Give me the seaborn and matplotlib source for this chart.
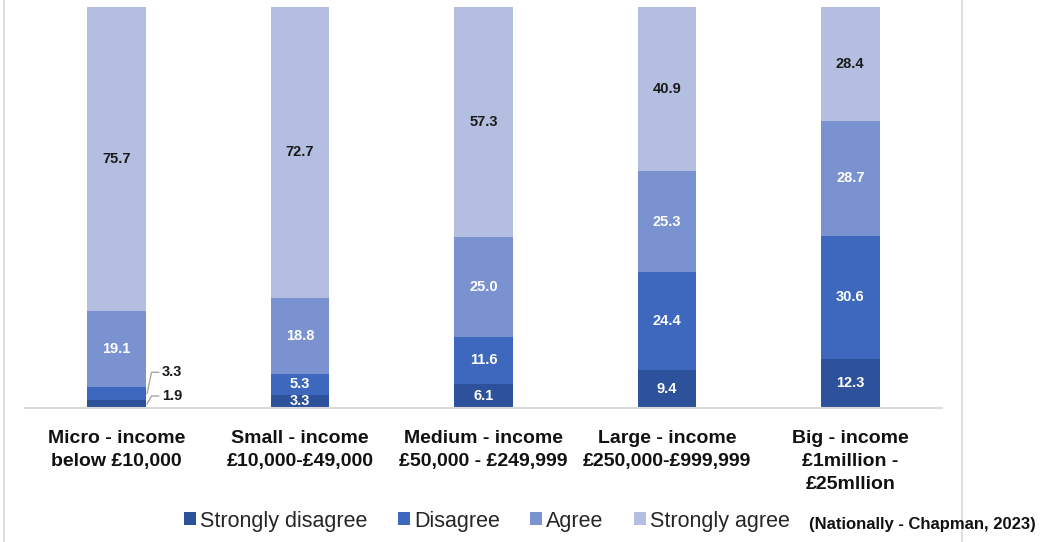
import matplotlib
matplotlib.use("Agg")
import matplotlib.pyplot as plt
from matplotlib.lines import Line2D
from matplotlib.patches import Patch
import numpy as np
import pandas as pd
import seaborn as sns

categories = [
    "Micro - income\nbelow £10,000",
    "Small - income\n£10,000-£49,000",
    "Medium - income\n£50,000 - £249,999",
    "Large - income\n£250,000-£999,999",
    "Big - income\n£1million -\n£25mllion",
]
series_names = ["Strongly disagree", "Disagree", "Agree", "Strongly agree"]
strongly_disagree = [1.9, 3.3, 6.1, 9.4, 12.3]
disagree = [3.3, 5.3, 11.6, 24.4, 30.6]
agree = [19.1, 18.8, 25.0, 25.3, 28.7]
strongly_agree = [75.7, 72.7, 57.3, 40.9, 28.4]
colors = ["#2D519A", "#3D68BE", "#7A93D0", "#B4BEE0"]

sns.set_theme(style="white")
plt.rcParams["font.family"] = ["Liberation Sans", "DejaVu Sans"]

values = np.array([strongly_disagree, disagree, agree, strongly_agree])
cum = np.cumsum(values, axis=0)

fig = plt.figure(figsize=(10.44, 5.42), dpi=100)
ax = fig.add_axes([25 / 1044, (542 - 408) / 542, 917 / 1044, 401 / 542])

# draw from tallest cumulative to shortest so segments stack
for i in range(3, -1, -1):
    df = pd.DataFrame({"cat": categories, "val": cum[i]})
    sns.barplot(data=df, x="cat", y="val", color=colors[i], saturation=1,
                width=0.32, ax=ax, order=categories, edgecolor="none", linewidth=0)

ax.set_xlim(-0.5, 4.5)
ax.set_ylim(0, 100)
ax.set_xlabel("")
ax.set_ylabel("")
ax.set_yticks([])
for s in ["left", "right", "top"]:
    ax.spines[s].set_visible(False)
ax.spines["bottom"].set_color("#D9D9D9")
ax.spines["bottom"].set_linewidth(1.5)
ax.tick_params(axis="x", length=0, pad=16)
ax.set_xticks(range(len(categories)))
ax.set_xticklabels(categories, fontsize=14, fontweight="bold", color="#111111",
                   linespacing=1.45)

# segment labels
for i in range(4):
    for j in range(len(categories)):
        v = values[i, j]
        bottom = cum[i, j] - v
        mid = bottom + v / 2
        if j == 0 and i < 2:
            continue
        col = "#1A1A1A" if i == 3 else "white"
        ax.text(j, mid, f"{v:.1f}", ha="center", va="center", fontsize=10.5,
                fontweight="bold", color=col)

# outside labels with leader lines for the small Micro segments
edge = 0.16
for i, ty in [(1, 8.9), (0, 3.0)]:
    v = values[i, 0]
    mid = cum[i, 0] - v / 2
    ax.plot([edge + 0.005, edge + 0.03, edge + 0.07], [mid, ty, ty],
            color="#A6A6A6", lw=1, clip_on=False)
    ax.text(edge + 0.085, ty, f"{v:.1f}", ha="left", va="center", fontsize=10.5,
            fontweight="bold", color="#1A1A1A")

# legend
handles = [Patch(facecolor=c, edgecolor="none") for c in colors]
fig.legend(handles, series_names, loc="center", bbox_to_anchor=(487 / 1044, 1 - 521 / 542),
           ncol=4, frameon=False, fontsize=15.5, handlelength=0.55, handleheight=0.55,
           handletextpad=0.2, columnspacing=1.4, labelcolor="#262626")

# outer frame side lines
fig.add_artist(Line2D([3.5 / 1044, 3.5 / 1044], [0, 1], color="#D9D9D9", lw=1.2))
fig.add_artist(Line2D([961.5 / 1044, 961.5 / 1044], [0, 1], color="#D9D9D9", lw=1.2))

fig.text(1036 / 1044, 1 - 525 / 542, "(Nationally - Chapman, 2023)", ha="right", va="center",
         fontsize=12, fontweight="bold", color="#111111")

fig.savefig("out.png", dpi=100)
